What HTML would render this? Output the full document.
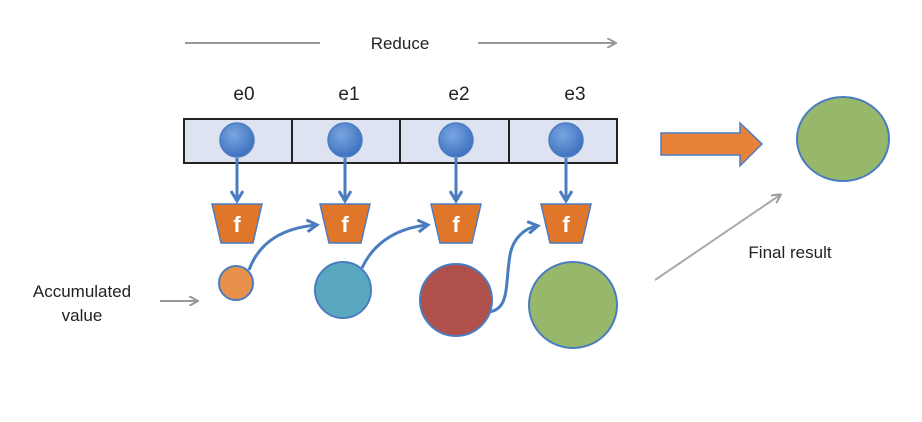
<!DOCTYPE html>
<html><head><meta charset="utf-8"><style>
html,body{margin:0;padding:0;background:#fff}
svg{display:block}
text{font-family:"Liberation Sans",sans-serif;fill:#222}
</style></head><body>
<svg width="922" height="422" viewBox="0 0 922 422" xmlns="http://www.w3.org/2000/svg">
<defs>
<marker id="ga" markerWidth="10" markerHeight="10" refX="8" refY="5" orient="auto" markerUnits="userSpaceOnUse"><path d="M0,0 L9,5 L0,10" fill="none" stroke="#999" stroke-width="2"/></marker>
<marker id="ba" markerWidth="14" markerHeight="14" refX="10" refY="7" orient="auto" markerUnits="userSpaceOnUse"><path d="M1,1 L11,7 L1,13" fill="none" stroke="#4a7cc0" stroke-width="3"/></marker>
<radialGradient id="bg" cx="40%" cy="35%" r="65%"><stop offset="0" stop-color="#7aa6e0"/><stop offset="1" stop-color="#3f72c0"/></radialGradient>
</defs>
<line x1="185" y1="43" x2="320" y2="43" stroke="#999" stroke-width="2"/>
<line x1="478" y1="43" x2="615" y2="43" stroke="#999" stroke-width="2" marker-end="url(#ga)"/>
<text x="400" y="49" font-size="17" text-anchor="middle">Reduce</text>
<text x="244" y="100" font-size="19" text-anchor="middle">e0</text>
<text x="349" y="100" font-size="19" text-anchor="middle">e1</text>
<text x="459" y="100" font-size="19" text-anchor="middle">e2</text>
<text x="575" y="100" font-size="19" text-anchor="middle">e3</text>
<rect x="184" y="119" width="433" height="44" fill="#dde3f0" stroke="#222" stroke-width="2"/>
<line x1="292" y1="119" x2="292" y2="163" stroke="#222" stroke-width="2"/>
<line x1="400" y1="119" x2="400" y2="163" stroke="#222" stroke-width="2"/>
<line x1="509" y1="119" x2="509" y2="163" stroke="#222" stroke-width="2"/>
<g stroke="#4a7cc0" stroke-width="3" marker-end="url(#ba)">
<line x1="237" y1="158" x2="237" y2="200"/>
<line x1="345" y1="158" x2="345" y2="200"/>
<line x1="456" y1="158" x2="456" y2="200"/>
<line x1="566" y1="158" x2="566" y2="200"/>
</g>
<g fill="url(#bg)" stroke="#4a7cc0" stroke-width="1.5">
<circle cx="237" cy="140" r="17"/><circle cx="345" cy="140" r="17"/><circle cx="456" cy="140" r="17"/><circle cx="566" cy="140" r="17"/>
</g>
<g fill="#e0762a" stroke="#4a7cc0" stroke-width="1.5">
<path d="M212,204 L262,204 L253,243 L221,243Z"/>
<path d="M320,204 L370,204 L361,243 L329,243Z"/>
<path d="M431,204 L481,204 L472,243 L440,243Z"/>
<path d="M541,204 L591,204 L582,243 L550,243Z"/>
</g>
<g font-size="22" font-weight="bold" text-anchor="middle"><text x="237" y="232" style="fill:#fff">f</text><text x="345" y="232" style="fill:#fff">f</text><text x="456" y="232" style="fill:#fff">f</text><text x="566" y="232" style="fill:#fff">f</text></g>
<g fill="none" stroke="#4a7cc0" stroke-width="3" marker-end="url(#ba)">
<path d="M249,270 C260,240 285,228 316,225"/>
<path d="M362,268 C375,240 400,228 427,225"/>
<path d="M488,312 C510,310 505,285 510,255 C513,238 525,228 537,226"/>
</g>
<circle cx="236" cy="283" r="17" fill="#e8914a" stroke="#4a7cc0" stroke-width="2"/>
<circle cx="343" cy="290" r="28" fill="#5aa8c0" stroke="#4a7cc0" stroke-width="2"/>
<circle cx="456" cy="300" r="36" fill="#b0504a" stroke="#4a7cc0" stroke-width="2"/>
<ellipse cx="573" cy="305" rx="44" ry="43" fill="#97b86a" stroke="#4a7cc0" stroke-width="2"/>
<text x="82" y="297" font-size="17" text-anchor="middle">Accumulated</text>
<text x="82" y="321" font-size="17" text-anchor="middle">value</text>
<line x1="160" y1="301" x2="197" y2="301" stroke="#999" stroke-width="2" marker-end="url(#ga)"/>
<path d="M661,133 L740,133 L740,123 L762,144 L740,166 L740,155 L661,155Z" fill="#e8823a" stroke="#4a7cc0" stroke-width="1.5"/>
<ellipse cx="843" cy="139" rx="46" ry="42" fill="#97b86a" stroke="#4a7cc0" stroke-width="2"/>
<line x1="655" y1="280" x2="780" y2="195" stroke="#aaa" stroke-width="2" marker-end="url(#ga)"/>
<text x="790" y="258" font-size="17" text-anchor="middle">Final result</text>
</svg>
</body></html>
